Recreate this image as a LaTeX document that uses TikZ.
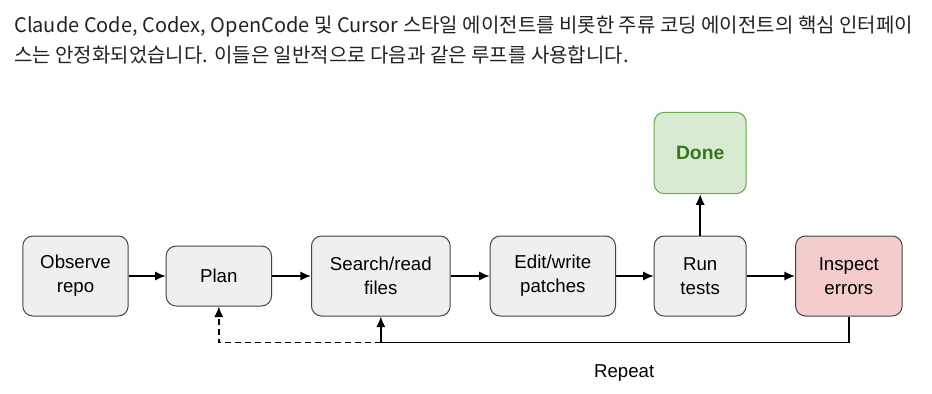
\documentclass[tikz,border=0pt]{standalone}
\usepackage{fontspec}
\setmainfont{Liberation Sans}
\newfontfamily\krfont{Noto Sans CJK KR}
\usepackage{tikz}
\usepackage{xcolor}
\usetikzlibrary{arrows.meta, positioning}
\definecolor{stepgray}{RGB}{239, 239, 239}
\definecolor{edgegray}{RGB}{68, 68, 68}
\definecolor{donegreen}{RGB}{217, 234, 211}
\definecolor{doneedge}{RGB}{106, 168, 79}
\definecolor{donetext}{RGB}{56, 118, 29}
\definecolor{errred}{RGB}{244, 204, 204}
\definecolor{introtext}{RGB}{34, 34, 34}
\tikzstyle{stepbox} = [rectangle, rounded corners=7.5pt, minimum height=60pt, text centered, align=center, draw=edgegray, line width=0.75pt, fill=stepgray, font=\fontsize{14}{18}\selectfont]
\tikzstyle{arrow} = [line width=1.2pt, -{Latex[length=8pt, width=7pt]}]

\begin{document}
\begin{tikzpicture}[x=0.75pt, y=-0.75pt]
\useasboundingbox (0,0) rectangle (932,393);

% Intro text above the loop
\node (intro) [anchor=north west, inner sep=0pt, align=left, text=introtext, font=\krfont\fontsize{15}{22}\selectfont] at (14,16)
  {Claude Code, Codex, OpenCode 및 Cursor 스타일 에이전트를 비롯한 주류 코딩 에이전트의 핵심 인터페이\\스는 안정화되었습니다. 이들은 일반적으로 다음과 같은 루프를 사용합니다.};

% Main loop, left to right
\node (observe) [stepbox, minimum width=79pt] at (75.5,276) {Observe\\repo};
\node (plan) [stepbox, minimum width=79pt, minimum height=45pt, right=27.75pt of observe] {Plan};
\node (search) [stepbox, minimum width=104pt, right=29.25pt of plan] {Search/read\\files};
\node (edit) [stepbox, minimum width=94pt, right=29.25pt of search] {Edit/write\\patches};
\node (run) [stepbox, minimum width=69pt, right=28.25pt of edit] {Run\\tests};
\node (inspect) [stepbox, minimum width=80pt, fill=errred, right=36.25pt of run] {Inspect\\errors};
\node (done) [stepbox, minimum width=69pt, minimum height=61pt, fill=donegreen, draw=doneedge, text=donetext, font=\fontsize{14.5}{18}\selectfont\bfseries, above=31pt of run] {Done};

% Forward arrows
\draw [arrow] (observe) -- (plan);
\draw [arrow] (plan) -- (search);
\draw [arrow] (search) -- (edit);
\draw [arrow] (edit) -- (run);
\draw [arrow] (run) -- (inspect);
\draw [arrow] (run) -- (done);

% Repeat path underneath
\coordinate (back) at ([yshift=-19.5pt]search.south);
\draw [arrow] (inspect.south) |- (back) node[pos=0.74, below=13pt, font=\fontsize{14}{18}\selectfont] {Repeat} -- (search.south);
\draw [arrow, dash pattern=on 4.5pt off 3pt] (back) -| (plan.south);

\end{tikzpicture}
\end{document}
